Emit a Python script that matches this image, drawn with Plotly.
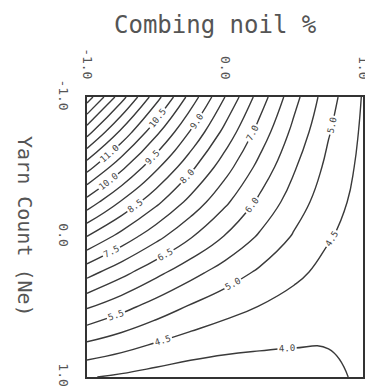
import plotly.graph_objects as go

# coded factor levels of the response-surface grid
combing_noil = [-1.0, -0.75, -0.5, -0.25, 0.0, 0.25, 0.5, 0.75, 1.0]
yarn_count = [-1.0, -0.75, -0.5, -0.25, 0.0, 0.25, 0.5, 0.75, 1.0]

# response estimated from the contour picture, one row per yarn-count level
resp_ym100 = [14.270, 12.697, 11.209, 9.809, 8.497, 7.279, 6.169, 5.206, 4.463]
resp_ym075 = [12.697, 11.382, 10.135, 8.955, 7.844, 6.806, 5.858, 5.037, 4.418]
resp_ym050 = [11.209, 10.134, 9.109, 8.134, 7.213, 6.347, 5.554, 4.870, 4.373]
resp_ym025 = [9.806, 8.948, 8.126, 7.342, 6.597, 5.897, 5.254, 4.704, 4.327]
resp_y000 = [8.474, 7.800, 7.150, 6.534, 5.961, 5.430, 4.944, 4.534, 4.280]
resp_yp025 = [7.204, 6.673, 6.154, 5.682, 5.276, 4.926, 4.613, 4.354, 4.228]
resp_yp050 = [6.047, 5.661, 5.280, 4.945, 4.684, 4.483, 4.314, 4.186, 4.180]
resp_yp075 = [4.995, 4.754, 4.511, 4.308, 4.173, 4.093, 4.044, 4.030, 4.135]
resp_yp100 = [4.034, 3.920, 3.802, 3.718, 3.696, 3.726, 3.785, 3.879, 4.091]

level_start, level_end, level_step = 4.0, 14.0, 0.5

x_ticks = [-1.0, 0.0, 1.0]
x_tick_text = ["-1.0", "0.0", "1.0"]
y_ticks = [-1.0, 0.0, 1.0]
y_tick_text = ["-1.0", "0.0", "1.0"]

z_rows = [resp_ym100, resp_ym075, resp_ym050, resp_ym025, resp_y000,
          resp_yp025, resp_yp050, resp_yp075, resp_yp100]

fig = go.Figure(go.Contour(
    x=combing_noil, y=yarn_count, z=z_rows,
    contours=dict(coloring="lines", start=level_start, end=level_end, size=level_step,
                  showlabels=True,
                  labelfont=dict(size=9, color="#444", family="DejaVu Sans Mono"),
                  labelformat=".1f"),
    colorscale=[[0, "#3a3a3a"], [1, "#3a3a3a"]],
    line=dict(width=1.4, smoothing=1.3),
    showscale=False,
    hoverinfo="skip",
))

font_mono = "DejaVu Sans Mono"
fig.update_layout(
    width=365, height=378,
    margin=dict(l=79, r=10, t=89, b=9),
    paper_bgcolor="white", plot_bgcolor="white",
    showlegend=False,
    xaxis=dict(range=[-1, 1], side="top", tickvals=x_ticks, ticktext=x_tick_text,
               tickangle=90, showgrid=False, zeroline=False, showline=True, mirror=True,
               linecolor="#333", linewidth=2, ticks="", ticklabelstandoff=11,
               automargin=False, ticklabeloverflow="allow",
               tickfont=dict(size=13, color="#555", family=font_mono)),
    yaxis=dict(range=[1, -1], tickvals=y_ticks, ticktext=y_tick_text,
               tickangle=90, showgrid=False, zeroline=False, showline=True, mirror=True,
               linecolor="#333", linewidth=2, ticks="", ticklabelstandoff=10,
               automargin=False, ticklabeloverflow="allow",
               tickfont=dict(size=13, color="#555", family=font_mono)),
    annotations=[
        dict(text="Combing noil %", x=0.467, y=1.257, xref="paper", yref="paper",
             xanchor="center", yanchor="middle",
             showarrow=False, font=dict(size=24, color="#555", family=font_mono)),
        dict(text="Yarn Count (Ne)", x=-0.225, y=0.536, xref="paper", yref="paper",
             xanchor="center", yanchor="middle",
             textangle=90, showarrow=False, font=dict(size=20, color="#555", family=font_mono)),
    ],
)
fig.write_html("out.html")
